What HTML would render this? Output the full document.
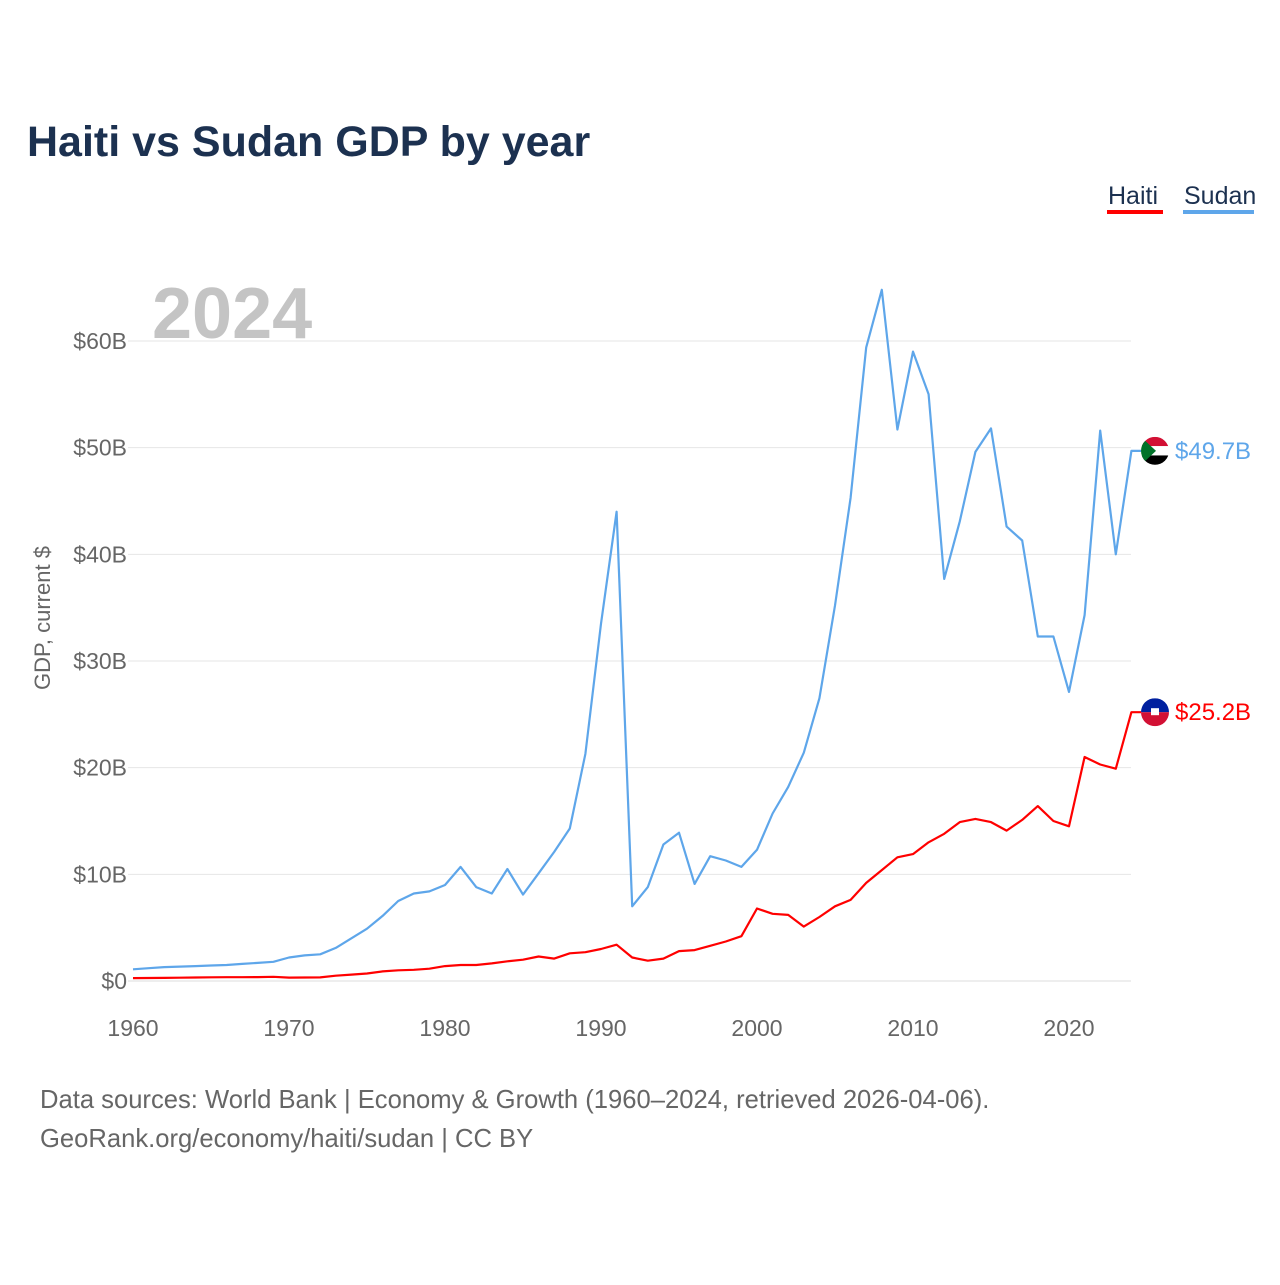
<!DOCTYPE html>
<html><head><meta charset="utf-8"><style>
body{margin:0;background:#fff;width:1280px;height:1280px;overflow:hidden;font-family:"Liberation Sans",sans-serif}
</style></head><body>
<svg width="1280" height="1280" xmlns="http://www.w3.org/2000/svg" font-family="Liberation Sans, sans-serif">
<text x="27" y="156" font-size="43" font-weight="bold" fill="#1c3150">Haiti vs Sudan GDP by year</text>
<g><text x="1108" y="204" font-size="25" fill="#1c3150">Haiti</text><rect x="1107" y="210" width="56" height="4" fill="#ff0000"/></g>
<g><text x="1184" y="204" font-size="25" fill="#1c3150">Sudan</text><rect x="1183" y="210" width="71" height="4" fill="#5ea6ea"/></g>
<text x="152" y="338" font-size="72" font-weight="bold" fill="#c4c4c4">2024</text>
<text transform="translate(50,618) rotate(-90)" text-anchor="middle" font-size="22" fill="#666">GDP, current $</text>
<g id="grid"></g><g id="yt"></g><g id="xt"></g><g id="lines"></g><g id="ends"></g>
<text x="40" y="1108" font-size="25.6" fill="#666">Data sources: World Bank | Economy &amp; Growth (1960–2024, retrieved 2026-04-06).</text>
<text x="40" y="1147" font-size="25.6" fill="#666">GeoRank.org/economy/haiti/sudan | CC BY</text>
</svg>
<script>
const years=[];for(let y=1960;y<=2024;y++)years.push(y);
const sudan=[1.1,1.2,1.3,1.35,1.4,1.45,1.5,1.6,1.7,1.8,2.2,2.4,2.5,3.1,4.0,4.9,6.1,7.5,8.2,8.4,9.0,10.7,8.8,8.2,10.5,8.1,10.1,12.1,14.3,21.3,33.5,44.0,7.0,8.8,12.8,13.9,9.1,11.7,11.3,10.7,12.3,15.7,18.2,21.4,26.5,35.2,45.3,59.4,64.8,51.7,59.0,55.0,37.7,43.1,49.6,51.8,42.6,41.3,32.3,32.3,27.1,34.3,51.6,40.0,49.7];
const haiti=[0.27,0.28,0.29,0.31,0.33,0.35,0.36,0.36,0.37,0.39,0.32,0.33,0.34,0.5,0.6,0.7,0.9,1.0,1.05,1.15,1.4,1.5,1.5,1.65,1.85,2.0,2.3,2.1,2.6,2.7,3.0,3.4,2.2,1.9,2.1,2.8,2.9,3.3,3.7,4.2,6.8,6.3,6.2,5.1,6.0,7.0,7.6,9.2,10.4,11.6,11.9,13.0,13.8,14.9,15.2,14.9,14.1,15.1,16.4,15.0,14.5,21.0,20.3,19.9,25.2];
const yTicks=[0,10,20,30,40,50,60];
const xTicks=[1960,1970,1980,1990,2000,2010,2020];
const NS="http://www.w3.org/2000/svg";
const X=y=>133+(y-1960)*15.6, Y=v=>981-v*10.667;
function mk(t,a,p){const e=document.createElementNS(NS,t);for(const k in a)e.setAttribute(k,a[k]);p.appendChild(e);return e;}
const grid=document.getElementById('grid'),yt=document.getElementById('yt'),xt=document.getElementById('xt');
yTicks.forEach(v=>{const l=mk('line',{x1:128,x2:1131,y1:Y(v),y2:Y(v),stroke:v?'#e6e6e6':'#ddd','stroke-width':1},grid);


const t=mk('text',{x:127,y:Y(v)+8,'text-anchor':'end','font-size':23,fill:'#666'},yt);t.textContent='$'+v+(v?'B':'');

});
xTicks.forEach(v=>{const t=mk('text',{x:X(v),y:1036,'text-anchor':'middle','font-size':23,fill:'#666'},xt);t.textContent=v;

});
const lines=document.getElementById('lines');
function series(arr,col,name){const d=arr.map((v,i)=>(i?'L':'M')+X(years[i]).toFixed(1)+','+Y(v).toFixed(1)).join('')+'L1141,'+Y(arr[arr.length-1]).toFixed(1);
const p=mk('path',{d:d,fill:'none',stroke:col,'stroke-width':2.2,'stroke-linejoin':'round'},lines);

}
series(sudan,'#5ea6ea','sudan-line');series(haiti,'#ff0000','haiti-line');
const ends=document.getElementById('ends');
function flag(v,top,bot,col,name,mid){const cy=Y(v);const g=mk('g',{},ends);


mk('clipPath',{id:'c'+name},g);mk('circle',{cx:1155,cy:cy,r:14},g.lastChild);
const gg=mk('g',{'clip-path':'url(#c'+name+')'},g);
if(mid){mk('rect',{x:1141,y:cy-14,width:28,height:9.3,fill:'#d21034'},gg);mk('rect',{x:1141,y:cy-4.7,width:28,height:9.3,fill:'#fff'},gg);mk('rect',{x:1141,y:cy+4.6,width:28,height:9.4,fill:'#000'},gg);mk('polygon',{points:`1141,${cy-14} 1156,${cy} 1141,${cy+14}`,fill:'#007229'},gg);}
else{mk('rect',{x:1141,y:cy-14,width:28,height:14,fill:top},gg);mk('rect',{x:1141,y:cy,width:28,height:14,fill:bot},gg);mk('rect',{x:1151,y:cy-4,width:8,height:7,fill:'#fff'},gg);}
const t=mk('text',{x:1175,y:cy+8,'font-size':24,fill:col},ends);t.textContent='$'+v+'B';

}
flag(sudan[sudan.length-1],'','','#5ea6ea','sudan',true);
flag(haiti[haiti.length-1],'#00209f','#d21034','#ff0000','haiti',false);
</script>
</body></html>
